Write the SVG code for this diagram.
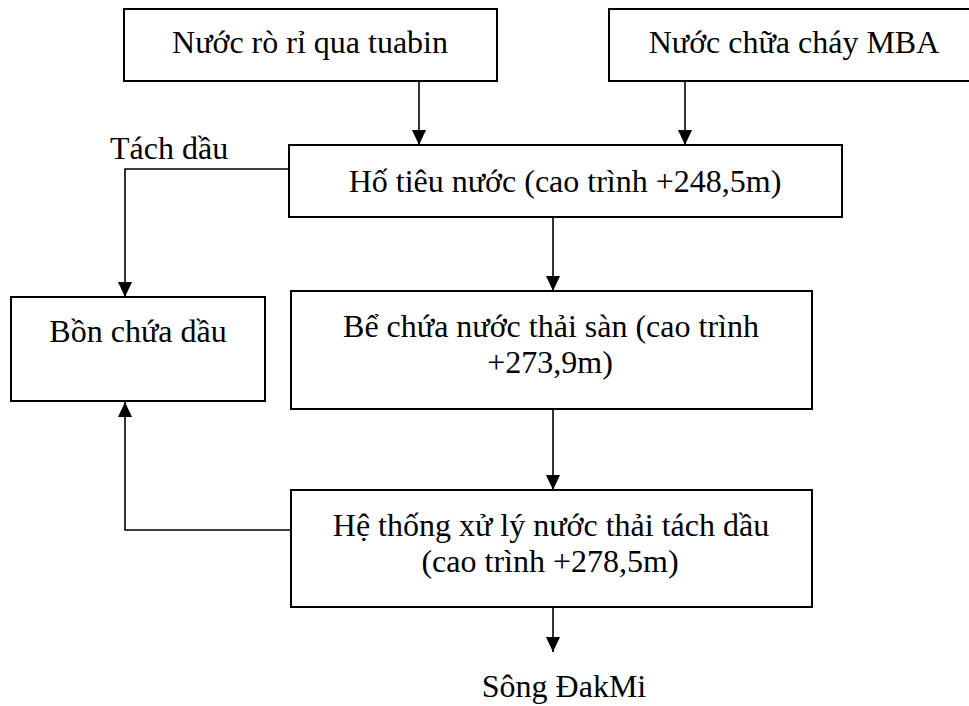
<svg xmlns="http://www.w3.org/2000/svg" width="969" height="706" viewBox="0 0 969 706">
<style>
.box{fill:#fff;stroke:#000;stroke-width:2}
.t{font-family:"Liberation Serif","Times New Roman",serif;font-size:32px;fill:#000}
.c{text-anchor:middle}
.ln{fill:none;stroke:#000;stroke-width:1.6}
</style>
<defs>
<marker id="ah" markerUnits="userSpaceOnUse" markerWidth="16" markerHeight="16" viewBox="0 0 16 16" refX="15" refY="7" orient="auto">
<path d="M0,0 L15,7 L0,14 Z" fill="#000"/>
</marker>
</defs>
<rect width="969" height="706" fill="#fff"/>
<g id="connectors">
<line class="ln" x1="419" y1="81" x2="419" y2="145" marker-end="url(#ah)"/>
<line class="ln" x1="685" y1="81" x2="685" y2="145" marker-end="url(#ah)"/>
<polyline class="ln" points="289,169 125,169 125,297" marker-end="url(#ah)"/>
<line class="ln" x1="553" y1="217" x2="553" y2="291" marker-end="url(#ah)"/>
<line class="ln" x1="553" y1="409" x2="553" y2="490" marker-end="url(#ah)"/>
<polyline class="ln" points="291,530 125,530 125,402" marker-end="url(#ah)"/>
<line class="ln" x1="553" y1="607" x2="553" y2="652" marker-end="url(#ah)"/>
</g>
<g id="n1">
<rect class="box" x="124" y="9" width="373" height="72"/>
<text class="t c" x="310" y="53">Nước rò rỉ qua tuabin</text>
</g>
<g id="n2">
<rect class="box" x="609" y="9" width="371" height="72"/>
<text class="t c" x="794" y="53">Nước chữa cháy MBA</text>
</g>
<g id="n3">
<rect class="box" x="289" y="145" width="553" height="72"/>
<text class="t c" x="565" y="192">Hố tiêu nước (cao trình +248,5m)</text>
</g>
<g id="lbl-tach">
<text class="t" x="110" y="159">Tách dầu</text>
</g>
<g id="n4">
<rect class="box" x="11" y="297" width="254" height="104"/>
<text class="t c" x="138" y="342">Bồn chứa dầu</text>
</g>
<g id="n5">
<rect class="box" x="291" y="291" width="521" height="118"/>
<text class="t c" x="551" y="337">Bể chứa nước thải sàn (cao trình</text>
<text class="t c" x="550" y="373">+273,9m)</text>
</g>
<g id="n6">
<rect class="box" x="291" y="490" width="521" height="117"/>
<text class="t c" x="551" y="536">Hệ thống xử lý nước thải tách dầu</text>
<text class="t c" x="550" y="572">(cao trình +278,5m)</text>
</g>
<g id="n7">
<text class="t c" x="564" y="697">Sông ĐakMi</text>
</g>
</svg>
